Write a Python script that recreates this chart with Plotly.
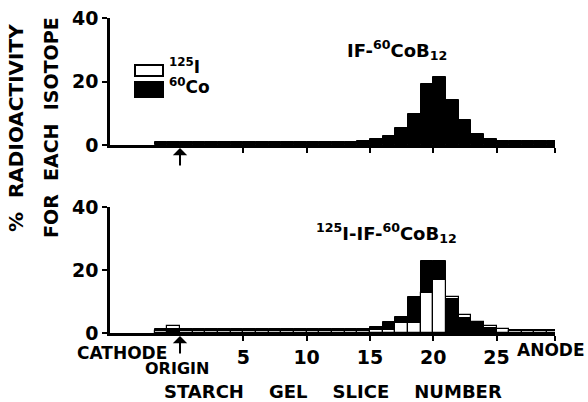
import plotly.graph_objects as go
import numpy as np

# ---- data ----
slice_left = list(range(-2, 30))  # left edge of each 1-slice bin

top_co60 = [1.0, 1.0, 1.0, 1.0, 1.0, 1.0, 1.0, 1.0, 1.0, 1.0, 1.0, 1.0, 1.0, 1.0, 1.0, 1.0,
            1.2, 1.8, 2.9, 5.2, 9.7, 19.2, 21.3, 14.2, 7.8, 3.6, 1.9, 1.3, 1.2, 1.2, 1.2, 1.2]

bot_co60 = [1.3, 1.3, 1.2, 1.2, 1.2, 1.2, 1.2, 1.2, 1.2, 1.2, 1.2, 1.2, 1.2, 1.2, 1.2, 1.2,
            1.3, 1.8, 3.4, 5.0, 11.3, 22.8, 22.8, 10.7, 4.9, 3.3, 1.6, 1.3, 0.9, 0.9, 0.9, 0.9]
bot_i125 = [0.7, 2.2, 0.7, 0.7, 0.7, 0.7, 0.7, 0.7, 0.7, 0.7, 0.7, 0.7, 0.7, 0.7, 0.7, 0.7,
            0.7, 0.8, 1.0, 3.2, 3.2, 12.8, 16.8, 11.5, 5.7, 3.4, 2.1, 1.3, 0.7, 0.7, 0.7, 0.7]

x_ticks = [5, 10, 15, 20, 25]

FONT = "DejaVu Sans"
X0, X1 = -5.53, 29.62
W, H = 588, 402
NB = "\u00a0"


def px(x):
    return x / W


def py(y):
    return 1 - y / H


fig = go.Figure()

# top panel: 60Co only
fig.add_trace(go.Bar(x=slice_left, y=top_co60, width=1, offset=0,
                     marker=dict(color="black", line=dict(color="black", width=1)),
                     xaxis="x", yaxis="y", showlegend=False))

# bottom panel: draw the taller series behind, the shorter in front
co = np.array(bot_co60)
ii = np.array(bot_i125)
co_back = np.where(co >= ii, co, np.nan)
i_front = np.where(co >= ii, ii, np.nan)
i_back = np.where(ii > co, ii, np.nan)
co_front = np.where(ii > co, co, np.nan)

black = dict(color="black", line=dict(color="black", width=1))
white = dict(color="white", line=dict(color="black", width=1.2))
for yv, mk in [(co_back, black), (i_back, white), (i_front, white), (co_front, black)]:
    fig.add_trace(go.Bar(x=slice_left, y=yv, width=1, offset=0, marker=mk,
                         xaxis="x2", yaxis="y2", showlegend=False))

xdom = [px(110), px(555)]
axis_common = dict(showline=True, linecolor="black", linewidth=2.5, showgrid=False,
                   zeroline=False, ticks="outside", tickcolor="black", tickwidth=2,
                   ticklen=5, tickfont=dict(family=FONT, size=19, color="black", weight="bold"))

fig.update_layout(
    width=W, height=H, margin=dict(l=0, r=0, t=0, b=0, autoexpand=False),
    paper_bgcolor="white", plot_bgcolor="white", barmode="overlay", bargap=0,
    xaxis=dict(domain=xdom, range=[X0, X1], anchor="y", tickvals=x_ticks + [X1 - 0.02],
               showticklabels=False, **axis_common),
    yaxis=dict(domain=[py(145), py(18)], range=[0, 40], anchor="x",
               tickvals=[0, 20, 40], **axis_common),
    xaxis2=dict(domain=xdom, range=[X0, X1], anchor="y2", tickvals=x_ticks + [X1 - 0.02],
                ticktext=[str(t) for t in x_ticks] + [""], **axis_common),
    yaxis2=dict(domain=[py(333), py(207)], range=[0, 40], anchor="x2",
                tickvals=[0, 20, 40], **axis_common),
)


def bold(size):
    return dict(family=FONT, size=size, color="black", weight="bold")


def txt(text, x, y, size, angle=0, xref="paper", xanchor="center"):
    return dict(text=text, x=x, y=y, xref=xref, yref="paper", textangle=angle,
                xanchor=xanchor, yanchor="middle", showarrow=False, font=bold(size))


ann = []
# y axis title (two rotated lines)
ann.append(txt("%" + NB * 2 + "RADIOACTIVITY", px(16), py(128), 20, angle=-90))
ann.append(txt("FOR" + NB * 2 + "EACH" + NB * 2 + "ISOTOPE", px(51), py(128), 19, angle=-90))
# x axis title and end labels
ann.append(txt((NB * 4).join(["STARCH", "GEL", "SLICE", "NUMBER"]), px(333), py(391), 18))
ann.append(txt("CATHODE", -4.6, py(353), 17, xref="x2"))
ann.append(txt("ORIGIN", -0.2, py(368), 16, xref="x2"))
ann.append(txt("ANODE", px(587), py(350), 17, xanchor="right"))
# origin arrows
for xr, yr in [("x", "y"), ("x2", "y2")]:
    ann.append(dict(text="", x=0, y=0, xref=xr, yref=yr, showarrow=True, ax=0, ay=22,
                    arrowhead=1, arrowsize=1.2, arrowwidth=2, arrowcolor="black", standoff=3))
# panel labels
ann.append(txt("IF-<sup>60</sup>CoB<sub>12</sub>", px(397), py(50), 18))
ann.append(txt("<sup>125</sup>I-IF-<sup>60</sup>CoB<sub>12</sub>", px(386), py(233), 18))
# legend texts
ann.append(txt("<sup>125</sup>I", px(167), py(66), 17, xanchor="left"))
ann.append(txt("<sup>60</sup>Co", px(167), py(86), 17, xanchor="left"))
fig.update_layout(annotations=ann)

# legend swatches
fig.add_shape(type="rect", xref="paper", yref="paper", x0=px(135), x1=px(163),
              y0=py(76), y1=py(65), fillcolor="white", line=dict(color="black", width=2))
fig.add_shape(type="rect", xref="paper", yref="paper", x0=px(135), x1=px(163),
              y0=py(97), y1=py(82), fillcolor="black", line=dict(color="black", width=2))

fig.write_html("out.html")
